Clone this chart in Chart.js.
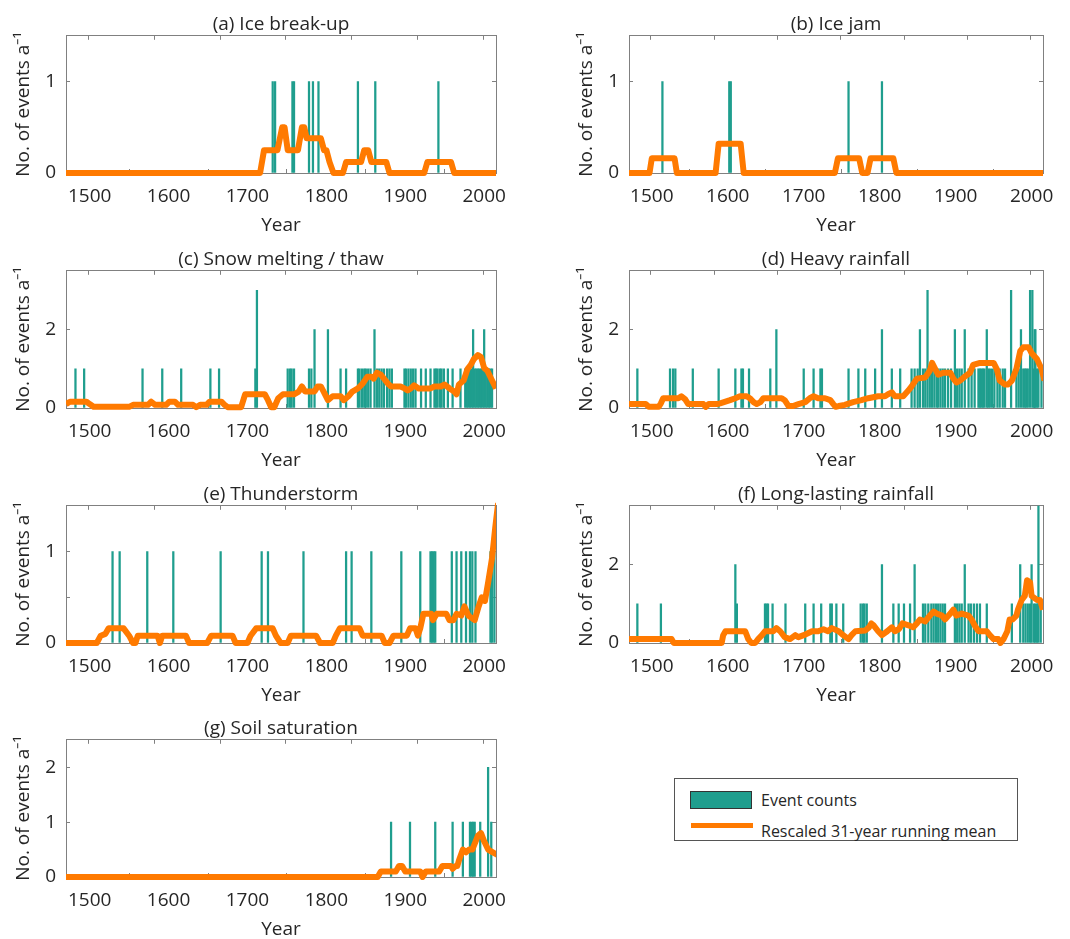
<!DOCTYPE html>
<html>
<head>
<meta charset="utf-8">
<script src="https://cdn.jsdelivr.net/npm/chart.js@4.4.0/dist/chart.umd.min.js"></script>
<style>
  html, body { margin: 0; padding: 0; background: #fff; overflow: hidden; }
  body { width: 1070px; height: 939px; position: relative; font-family: "Open Sans", sans-serif; color: #262626; }
  .panel { position: absolute; height: 243px; }
  .left { left: 0px; width: 526px; }
  .right { left: 563px; width: 510px; }
  .legend { position: absolute; left: 674px; top: 778px; width: 342px; height: 61px; border: 1px solid #555; background: #fff; }
  .legend .sw-bar { position: absolute; left: 15px; top: 12px; width: 60px; height: 16px; background: #1f9e8e; border: 1px solid #333; }
  .legend .sw-line { position: absolute; left: 16px; top: 44px; width: 62px; height: 5px; background: #ff7a00; }
  .legend span { position: absolute; left: 86px; font-size: 16px; line-height: 20px; white-space: nowrap; }
</style>
</head>
<body>

<div class="panel left" style="top:0px"><canvas id="chartA"></canvas></div>
<div class="panel right" style="top:0px"><canvas id="chartB"></canvas></div>
<div class="panel left" style="top:235px"><canvas id="chartC"></canvas></div>
<div class="panel right" style="top:235px"><canvas id="chartD"></canvas></div>
<div class="panel left" style="top:470px"><canvas id="chartE"></canvas></div>
<div class="panel right" style="top:470px"><canvas id="chartF"></canvas></div>
<div class="panel left" style="top:704px"><canvas id="chartG"></canvas></div>

<div class="legend">
  <div class="sw-bar"></div><span style="top:11px">Event counts</span>
  <div class="sw-line"></div><span style="top:42px">Rescaled 31-year running mean</span>
</div>

<script>
// ---- data ----
const yearTicks = [1500, 1600, 1700, 1800, 1900, 2000];

// (a) Ice break-up
const aYears  = [1732, 1735, 1757, 1759, 1778, 1783, 1790, 1840, 1862, 1942];
const aCounts = [1, 1, 1, 1, 1, 1, 1, 1, 1, 1];
const aMeanYears = [1470, 1716, 1721, 1738, 1744, 1747, 1751, 1764, 1769, 1772, 1775, 1793, 1797, 1800, 1804, 1809, 1821, 1825, 1844, 1848, 1853, 1857, 1876, 1880, 1924, 1928, 1958, 1962, 2015];
const aMeanVals  = [0, 0, 0.25, 0.25, 0.5, 0.5, 0.25, 0.25, 0.5, 0.5, 0.38, 0.38, 0.25, 0.25, 0.12, 0, 0, 0.12, 0.12, 0.25, 0.25, 0.12, 0.12, 0, 0, 0.12, 0.12, 0, 0];

// (b) Ice jam
const bYears  = [1514, 1602, 1604, 1759, 1803];
const bCounts = [1, 1, 1, 1, 1];
const bMeanYears = [1470, 1497, 1500, 1530, 1533, 1584, 1588, 1617, 1621, 1741, 1745, 1773, 1777, 1784, 1788, 1818, 1822, 2015];
const bMeanVals  = [0, 0, 0.16, 0.16, 0, 0, 0.32, 0.32, 0, 0, 0.16, 0.16, 0, 0, 0.16, 0.16, 0, 0];

// (c) Snow melting / thaw
const cYears  = [1482, 1493, 1567, 1592, 1616, 1653, 1664, 1710, 1712, 1751, 1754, 1756, 1759, 1778, 1781, 1785, 1802, 1818, 1825,
                 1840, 1842, 1845, 1848, 1850, 1853, 1856, 1861, 1864, 1867, 1870, 1873, 1877, 1880, 1883,
                 1899, 1901, 1904, 1907, 1910, 1913, 1920, 1926, 1932, 1937, 1939, 1941, 1944, 1946, 1949, 1954, 1960, 1970,
                 1976, 1978, 1980, 1982, 1984, 1986, 1988, 1990, 1992, 1994, 1996, 1998, 2000, 2002, 2004, 2006, 2008, 2010];
const cCounts = [1, 1, 1, 1, 1, 1, 1, 1, 3, 1, 1, 1, 1, 1, 1, 2, 2, 1, 1,
                 1, 1, 1, 1, 1, 1, 1, 2, 1, 1, 1, 1, 1, 1, 1,
                 1, 1, 1, 1, 1, 1, 1, 1, 1, 1, 1, 1, 1, 1, 1, 1, 1, 1,
                 1, 1, 1, 1, 1, 2, 1, 1, 1, 1, 1, 1, 2, 1, 1, 1, 1, 1];
const cMeanYears = [1470, 1475, 1496, 1500, 1505, 1550, 1555, 1574, 1578, 1583, 1597, 1601, 1608, 1612, 1631, 1635, 1640, 1648, 1652, 1667,
                    1671, 1675, 1692, 1697, 1722, 1726, 1730, 1734, 1739, 1745, 1759, 1765, 1769, 1773, 1785, 1789, 1793, 1797, 1802,
                    1808, 1818, 1822, 1828, 1833, 1840, 1846, 1852, 1857, 1860, 1864, 1869, 1873, 1878, 1882, 1894, 1899, 1903, 1907,
                    1911, 1917, 1932, 1937, 1945, 1950, 1956, 1962, 1965, 1968, 1974, 1979, 1983, 1987, 1992, 1996, 2000, 2004, 2010, 2015];
const cMeanVals  = [0.1, 0.16, 0.16, 0.1, 0.03, 0.03, 0.08, 0.08, 0.16, 0.08, 0.08, 0.16, 0.16, 0.08, 0.08, 0.02, 0.08, 0.08, 0.16, 0.16,
                    0.08, 0.02, 0.02, 0.35, 0.35, 0.2, 0.02, 0.02, 0.25, 0.35, 0.35, 0.42, 0.55, 0.42, 0.42, 0.55, 0.55, 0.4, 0.2,
                    0.3, 0.3, 0.2, 0.3, 0.42, 0.5, 0.62, 0.8, 0.8, 0.75, 0.9, 0.85, 0.75, 0.62, 0.55, 0.55, 0.5, 0.45, 0.5,
                    0.58, 0.5, 0.5, 0.55, 0.55, 0.6, 0.5, 0.42, 0.35, 0.6, 0.7, 1.0, 1.1, 1.25, 1.35, 1.3, 1.02, 0.95, 0.7, 0.5];

// (d) Heavy rainfall
const dYears  = [1481, 1524, 1528, 1531, 1554, 1588, 1610, 1618, 1620, 1628, 1656, 1664, 1700, 1713, 1722, 1724, 1759, 1772, 1781, 1794,
                 1803, 1816, 1827, 1842, 1846, 1850, 1853, 1857, 1860, 1863, 1866, 1869, 1872, 1875, 1877, 1880, 1883, 1886, 1890,
                 1894, 1899, 1902, 1905, 1908, 1912, 1917, 1921, 1925, 1930, 1932, 1934, 1936, 1938, 1941, 1943, 1945, 1948, 1951,
                 1955, 1958, 1962, 1965, 1973, 1980, 1983, 1986, 1989, 1991, 1993, 1995, 1998, 2001, 2003, 2004, 2005, 2007, 2009, 2013];
const dCounts = [1, 1, 1, 1, 1, 1, 1, 1, 1, 1, 1, 2, 1, 1, 1, 1, 1, 1, 1, 1,
                 2, 1, 1, 1, 1, 1, 2, 1, 1, 3, 1, 1, 1, 1, 1, 1, 1, 1, 1,
                 1, 2, 1, 1, 1, 2, 1, 1, 1, 1, 1, 1, 1, 1, 2, 1, 1, 1, 1,
                 1, 1, 1, 1, 3, 1, 1, 2, 1, 1, 1, 1, 3, 3, 1, 2, 2, 1, 1, 1];
const dMeanYears = [1470, 1492, 1496, 1509, 1512, 1515, 1535, 1539, 1544, 1548, 1568, 1571, 1575, 1586, 1590, 1603, 1610, 1616, 1625, 1629,
                    1634, 1638, 1643, 1647, 1671, 1675, 1680, 1686, 1693, 1702, 1708, 1713, 1719, 1728, 1735, 1739, 1742, 1746, 1754,
                    1765, 1776, 1785, 1798, 1807, 1811, 1816, 1820, 1831, 1838, 1842, 1849, 1860, 1866, 1869, 1873, 1877, 1884, 1893,
                    1897, 1901, 1906, 1912, 1919, 1923, 1932, 1950, 1954, 1958, 1965, 1969, 1974, 1980, 1985, 1989, 1996, 2000, 2007, 2013, 2017];
const dMeanVals  = [0.1, 0.1, 0.03, 0.03, 0.12, 0.25, 0.25, 0.3, 0.22, 0.1, 0.1, 0.03, 0.1, 0.1, 0.12, 0.2, 0.25, 0.3, 0.3, 0.25,
                    0.15, 0.1, 0.15, 0.25, 0.25, 0.2, 0.05, 0.05, 0.1, 0.15, 0.25, 0.3, 0.25, 0.25, 0.2, 0.1, 0.03, 0.05, 0.08,
                    0.15, 0.2, 0.25, 0.3, 0.3, 0.35, 0.4, 0.3, 0.3, 0.45, 0.55, 0.75, 0.78, 0.95, 1.15, 1.0, 0.85, 0.9, 0.9,
                    0.75, 0.65, 0.7, 0.8, 0.9, 1.1, 1.15, 1.15, 1.0, 0.7, 0.6, 0.6, 0.7, 1.0, 1.45, 1.55, 1.55, 1.4, 1.25, 1.0, 0.7];

// (e) Thunderstorm
const eYears  = [1529, 1538, 1573, 1606, 1666, 1718, 1726, 1771, 1825, 1832, 1857, 1895, 1919, 1932, 1934, 1936, 1938,
                 1959, 1965, 1971, 1977, 1982, 1985, 1989, 2008, 2010, 2013];
const eCounts = [1, 1, 1, 1, 1, 1, 1, 1, 1, 1, 1, 1, 1, 1, 1, 1, 1, 1, 1, 1, 1, 1, 1, 1, 1, 1, 1];
const eMeanYears = [1470, 1509, 1514, 1520, 1524, 1543, 1550, 1555, 1558, 1561, 1586, 1589, 1592, 1622, 1626, 1649, 1654, 1681, 1685, 1700,
                    1704, 1711, 1732, 1736, 1742, 1751, 1755, 1787, 1792, 1808, 1812, 1817, 1842, 1846, 1870, 1874, 1880, 1885, 1902,
                    1906, 1913, 1916, 1919, 1923, 1933, 1935, 1940, 1952, 1956, 1961, 1965, 1971, 1975, 1980, 1988, 1993, 1997, 2001,
                    2005, 2010, 2014, 2018];
const eMeanVals  = [0, 0, 0.08, 0.1, 0.16, 0.16, 0.08, 0, 0, 0.08, 0.08, 0, 0.08, 0.08, 0, 0, 0.08, 0.08, 0, 0,
                    0.08, 0.16, 0.16, 0.08, 0, 0, 0.08, 0.08, 0, 0, 0.08, 0.16, 0.16, 0.08, 0.08, 0, 0, 0.08, 0.08,
                    0.16, 0.16, 0.08, 0.16, 0.32, 0.32, 0.25, 0.32, 0.32, 0.25, 0.25, 0.32, 0.3, 0.4, 0.3, 0.25, 0.4, 0.5, 0.46,
                    0.66, 0.93, 1.26, 1.55];

// (f) Long-lasting rainfall
const fYears  = [1481, 1512, 1610, 1612, 1649, 1651, 1653, 1659, 1676, 1702, 1713, 1723, 1735, 1737, 1743, 1752, 1775, 1778, 1780, 1783,
                 1803, 1818, 1825, 1832, 1840, 1846, 1857, 1860, 1864, 1868, 1871, 1874, 1877, 1880, 1883, 1886,
                 1899, 1902, 1905, 1908, 1912, 1917, 1920, 1924, 1928, 1932, 1941, 1974, 1985, 1989, 1992, 1995, 1998,
                 2000, 2003, 2005, 2007, 2009, 2012];
const fCounts = [1, 1, 2, 1, 1, 1, 1, 1, 1, 1, 1, 1, 1, 1, 1, 1, 1, 1, 1, 1,
                 2, 1, 1, 1, 1, 2, 1, 1, 1, 1, 1, 1, 1, 1, 1, 1,
                 1, 1, 1, 1, 2, 1, 1, 1, 1, 1, 1, 1, 2, 1, 1, 1, 1,
                 2, 1, 1, 1, 4, 1];
const fMeanYears = [1470, 1526, 1529, 1592, 1594, 1597, 1623, 1627, 1631, 1636, 1640, 1645, 1649, 1660, 1664, 1669, 1675, 1682, 1689, 1693,
                    1700, 1711, 1719, 1726, 1732, 1737, 1746, 1752, 1759, 1763, 1768, 1781, 1786, 1789, 1792, 1798, 1803, 1810, 1816,
                    1820, 1825, 1830, 1838, 1844, 1849, 1853, 1860, 1866, 1871, 1875, 1882, 1886, 1893, 1897, 1901, 1908, 1917, 1921,
                    1925, 1930, 1941, 1945, 1950, 1956, 1959, 1963, 1968, 1971, 1975, 1980, 1982, 1987, 1991, 1994, 1998, 2000, 2007,
                    2011, 2015, 2018];
const fMeanVals  = [0.1, 0.1, 0, 0, 0.2, 0.3, 0.3, 0.1, 0, 0, 0.1, 0.2, 0.3, 0.3, 0.38, 0.3, 0.15, 0.1, 0.2, 0.15,
                    0.2, 0.3, 0.3, 0.35, 0.3, 0.38, 0.3, 0.2, 0.1, 0.2, 0.3, 0.32, 0.4, 0.5, 0.45, 0.3, 0.2, 0.3, 0.4,
                    0.3, 0.35, 0.5, 0.45, 0.4, 0.5, 0.6, 0.55, 0.7, 0.8, 0.75, 0.7, 0.6, 0.75, 0.85, 0.7, 0.75, 0.7, 0.6,
                    0.45, 0.3, 0.3, 0.2, 0.1, 0.1, 0, 0.1, 0.3, 0.6, 0.6, 0.7, 0.85, 1.1, 1.2, 1.6, 1.55, 1.2, 1.1,
                    1.1, 0.85, 0.75];

// (g) Soil saturation
const gYears  = [1882, 1906, 1938, 1960, 1973, 1982, 1984, 1986, 1988, 1995, 2005, 2009];
const gCounts = [1, 1, 1, 1, 1, 1, 1, 1, 1, 1, 2, 1];
const gMeanYears = [1470, 1865, 1869, 1888, 1892, 1896, 1900, 1919, 1922, 1926, 1943, 1947, 1958, 1960, 1964, 1966, 1968, 1973, 1977, 1981,
                    1985, 1992, 1996, 2000, 2005, 2011, 2017];
const gMeanVals  = [0, 0, 0.1, 0.1, 0.2, 0.2, 0.1, 0.1, 0, 0.1, 0.1, 0.2, 0.2, 0.15, 0.2, 0.2, 0.3, 0.5, 0.45, 0.5,
                    0.5, 0.75, 0.8, 0.65, 0.5, 0.45, 0.4];

// ---- style ----
const TEAL = '#1f9e8e';
const ORANGE = '#ff7a00';
const AXIS = '#808080';
const TEXT = '#262626';
const FONT = { family: '"Open Sans", sans-serif', size: 19, weight: 'normal' };
const X_MIN = 1470;
const X_MAX = 2015;

function pairs(xs, ys) {
  return xs.map((x, i) => ({ x: x, y: ys[i] }));
}

function fixedTicks(vals) {
  return (scale) => { scale.ticks = vals.map(v => ({ value: v })); };
}

// fixed axis size, and no extra room for overhanging labels
function fixedSize(prop, size) {
  return (s) => {
    s[prop] = size;
    s.paddingLeft = 0; s.paddingRight = 0; s.paddingTop = 0; s.paddingBottom = 0;
  };
}

// MATLAB-like box: ticks point inward, on all four sides
const inward = { drawOnChartArea: false, color: AXIS, tickColor: AXIS, tickLength: -4, tickWidth: 1 };
const box = { color: AXIS, width: 1 };

function drawPanel(canvasId, title, years, counts, meanYears, meanVals, yMax, yTicks, yLabels) {
  const ctx = document.getElementById(canvasId);
  return new Chart(ctx, {
    type: 'bar',
    data: {
      datasets: [
        {
          type: 'line',
          label: 'Rescaled 31-year running mean',
          data: pairs(meanYears, meanVals),
          borderColor: ORANGE,
          borderWidth: 6,
          borderJoinStyle: 'round',
          pointRadius: 0,
          tension: 0,
          clip: { left: 0, right: 0, top: 3, bottom: 3 },
          order: 0
        },
        {
          type: 'bar',
          label: 'Event counts',
          data: pairs(years, counts),
          backgroundColor: TEAL,
          barThickness: 1.6,
          order: 1
        }
      ]
    },
    options: {
      animation: false,
      responsive: true,
      maintainAspectRatio: false,
      layout: { padding: { left: 0, right: 30, top: 0, bottom: 0 } },
      plugins: {
        legend: { display: false },
        tooltip: { enabled: false },
        title: {
          display: true,
          text: title,
          fullSize: false,
          color: TEXT,
          font: FONT,
          padding: { top: 13, bottom: 0 }
        }
      },
      scales: {
        x: {
          type: 'linear',
          position: 'bottom',
          min: X_MIN,
          max: X_MAX,
          offset: false,
          afterBuildTicks: fixedTicks(yearTicks),
          afterFit: fixedSize('height', 70),
          grid: inward,
          border: box,
          ticks: { color: TEXT, font: FONT, padding: 16, maxRotation: 0, autoSkip: false, callback: (v) => String(v) },
          title: { display: true, text: 'Year', color: TEXT, font: FONT, padding: { top: 0, bottom: 6 } }
        },
        x2: {
          type: 'linear',
          position: 'top',
          min: X_MIN,
          max: X_MAX,
          afterBuildTicks: fixedTicks(yearTicks),
          afterFit: fixedSize('height', 0),
          grid: inward,
          border: box,
          ticks: { callback: () => '' }
        },
        y: {
          type: 'linear',
          min: 0,
          max: yMax,
          afterBuildTicks: fixedTicks(yTicks),
          afterFit: fixedSize('width', 66),
          grid: inward,
          border: box,
          ticks: { color: TEXT, font: FONT, padding: 14, callback: (v) => yLabels.includes(v) ? String(v) : '' },
          title: { display: true, text: 'No. of events a⁻¹', color: TEXT, font: FONT, padding: { top: 12, bottom: 0 } }
        },
        y2: {
          type: 'linear',
          position: 'right',
          min: 0,
          max: yMax,
          afterBuildTicks: fixedTicks(yTicks),
          afterFit: fixedSize('width', 0),
          grid: inward,
          border: box,
          ticks: { callback: () => '' }
        }
      }
    }
  });
}

drawPanel('chartA', '(a) Ice break-up', aYears, aCounts, aMeanYears, aMeanVals, 1.5, [0, 1], [0, 1]);
drawPanel('chartB', '(b) Ice jam', bYears, bCounts, bMeanYears, bMeanVals, 1.5, [0, 1], [0, 1]);
drawPanel('chartC', '(c) Snow melting / thaw', cYears, cCounts, cMeanYears, cMeanVals, 3.5, [0, 2], [0, 2]);
drawPanel('chartD', '(d) Heavy rainfall', dYears, dCounts, dMeanYears, dMeanVals, 3.5, [0, 2], [0, 2]);
drawPanel('chartE', '(e) Thunderstorm', eYears, eCounts, eMeanYears, eMeanVals, 1.5, [0, 0.5, 1], [0, 1]);
drawPanel('chartF', '(f) Long-lasting rainfall', fYears, fCounts, fMeanYears, fMeanVals, 3.5, [0, 2], [0, 2]);
drawPanel('chartG', '(g) Soil saturation', gYears, gCounts, gMeanYears, gMeanVals, 2.5, [0, 1, 2], [0, 1, 2]);
</script>
</body>
</html>
